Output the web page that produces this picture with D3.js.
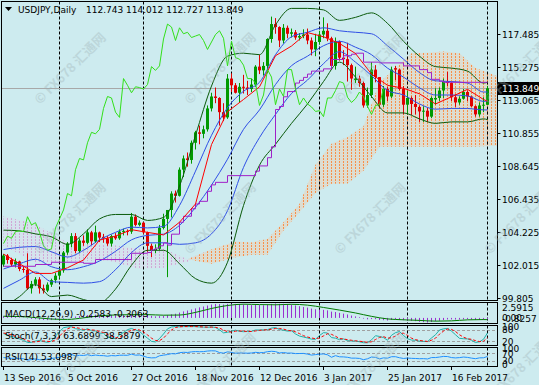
<!DOCTYPE html>
<html>
<head>
<meta charset="utf-8">
<script src="https://cdn.jsdelivr.net/npm/d3@7"></script>
<style>
  html, body { margin: 0; padding: 0; background: #cdebef; }
  svg { display: block; }
  text { font-family: "DejaVu Sans", sans-serif; font-size: 9px; fill: #000; }
</style>
</head>
<body>
<div id="chart"></div>
<script>
// bars are daily candles, index 0 = 13 Sep 2016 ... 121 = 1 Mar 2017
var dateTickBars = [0, 16, 32, 48, 64, 80, 96, 112];
var dateTickLabels = ["13 Sep 2016", "5 Oct 2016", "27 Oct 2016", "18 Nov 2016", "12 Dec 2016", "3 Jan 2017", "25 Jan 2017", "16 Feb 2017"];
var monthStartBars = [14, 35, 57, 79, 101, 121];
var priceTicks = [117.485, 115.275, 113.065, 110.855, 108.645, 106.435, 104.225, 102.015, 99.805];
var lastPrice = 113.849;

var opens = [102.05,102.65,102.35,102.05,102.25,101.75,101.70,100.45,100.75,101.05,
  100.45,100.30,100.70,101.00,101.30,101.65,102.85,103.45,103.95,102.95,
  103.65,103.50,104.20,103.60,104.20,103.90,103.80,103.45,103.95,103.80,
  104.25,104.30,104.25,105.25,104.70,104.85,104.20,103.30,103.00,103.10,
  104.50,105.10,105.70,106.80,106.65,108.40,109.15,109.05,110.20,110.90,
  110.80,111.10,112.50,113.30,113.20,112.25,111.90,114.50,114.05,113.55,
  113.95,113.90,113.80,114.10,115.30,115.05,115.35,117.15,118.15,117.95,
  117.05,117.90,117.50,117.60,117.25,117.35,117.45,117.05,116.45,116.95,
  117.45,117.70,117.20,115.35,117.00,115.90,115.80,115.40,114.40,114.50,
  114.20,112.70,113.40,115.10,114.60,112.75,113.80,113.30,115.20,115.10,
  113.80,112.75,113.20,112.80,112.60,112.30,112.35,111.95,113.10,113.20,
  113.70,114.30,114.20,113.25,112.90,113.15,113.60,113.30,112.65,112.10,
  112.70,112.743];
var highs = [102.75,102.75,102.50,102.45,102.30,101.95,102.80,100.95,101.20,101.20,
  100.70,100.85,101.10,101.50,101.80,102.95,103.55,104.15,104.15,103.80,
  104.00,104.40,104.30,104.65,104.25,104.10,103.95,104.05,104.15,104.40,
  104.45,104.40,105.50,105.40,105.00,104.90,104.25,103.45,103.40,104.70,
  105.45,105.50,106.95,107.00,108.55,109.35,109.55,110.35,111.00,111.35,
  111.35,112.70,113.55,113.90,113.25,112.85,114.80,114.85,114.20,114.20,
  114.75,114.35,114.50,115.40,116.10,115.60,117.20,118.65,118.55,118.00,
  118.15,118.05,117.85,117.75,117.55,117.80,117.85,117.25,117.50,117.70,
  118.60,118.20,117.30,117.25,117.05,116.40,116.90,115.50,115.30,114.70,
  114.30,113.90,115.60,115.40,114.60,114.00,113.95,115.30,115.35,115.15,
  114.00,113.70,113.30,113.40,112.70,112.65,112.55,113.30,113.85,113.90,
  114.50,114.95,114.25,113.45,113.30,113.80,113.70,113.35,112.70,112.90,
  113.25,114.012];
var lows = [101.90,102.10,101.90,101.85,101.60,101.50,100.35,100.10,100.60,100.10,
  100.10,100.20,100.55,100.80,101.10,101.50,102.70,103.20,102.80,102.80,
  103.30,103.40,103.35,103.50,103.55,103.50,103.30,103.25,103.70,103.70,
  104.00,104.00,104.10,104.60,104.60,104.10,102.90,102.55,102.80,103.00,
  104.40,101.20,105.20,106.20,106.60,107.90,108.60,108.80,109.75,110.10,
  110.50,110.95,112.30,112.85,111.35,111.65,111.80,113.60,113.50,112.90,
  113.50,113.40,113.60,113.95,114.80,114.70,114.85,116.90,117.50,116.60,
  116.85,117.20,117.25,117.10,117.05,117.20,116.80,116.05,116.00,116.80,
  117.20,117.00,115.10,115.10,115.70,115.40,114.30,113.75,114.20,113.95,
  112.55,112.55,113.20,114.25,112.50,112.60,113.00,113.20,114.40,113.70,
  112.10,112.10,112.05,112.10,111.60,111.60,111.60,111.85,112.75,113.00,
  113.20,114.00,113.00,112.60,112.75,113.10,113.00,112.60,111.95,111.95,
  112.25,112.727];
var closes = [102.65,102.35,102.05,102.25,101.75,101.70,100.45,100.75,101.05,100.45,
  100.30,100.70,101.00,101.30,101.65,102.85,103.45,103.95,102.95,103.65,
  103.50,104.20,103.60,104.20,103.85,103.80,103.45,103.95,103.80,104.25,
  104.30,104.25,105.25,104.70,104.85,104.20,103.30,103.00,103.10,104.50,
  105.10,105.70,106.80,106.65,108.40,109.15,109.05,110.20,110.90,110.80,
  111.10,112.50,113.30,113.20,112.25,111.90,114.50,114.05,113.55,113.95,
  113.90,113.80,114.10,115.30,115.05,115.35,117.15,118.15,117.95,117.05,
  117.90,117.50,117.60,117.25,117.35,117.45,117.05,116.45,116.95,117.45,
  117.70,117.20,115.35,117.00,115.90,115.80,115.40,114.50,114.50,114.20,
  112.70,113.40,115.10,114.60,112.75,113.80,113.30,115.10,115.10,113.80,
  112.75,113.20,112.80,112.60,112.30,112.35,111.95,113.20,113.20,113.70,
  114.30,114.20,113.25,112.90,113.15,113.60,113.30,112.65,112.10,112.70,
  112.75,113.849];

// indicator readings taken every 4 bars
var sampleBars = [0,4,8,12,16,20,24,28,32,36,40,44,48,52,56,60,64,68,72,76,80,84,88,92,96,100,104,108,112,116,120,121];
var bbUpper2 = [104.35,104.3,104.1,103.9,103.4,104.1,105.1,105.4,105.4,105.0,105.2,107.3,110.7,114.0,116.0,116.2,116.1,118.1,119.2,119.2,119.1,118.4,118.6,118.9,118.2,117.0,116.0,115.3,115.2,115.0,114.2,114.25];
var bbLower2 = [99.15,99.9,100.7,99.9,100.0,99.7,99.5,100.4,102.0,103.0,103.0,102.1,101.1,100.8,102.2,106.0,108.7,110.1,111.5,112.8,114.3,115.6,114.6,113.3,112.2,112.2,111.8,111.5,111.6,111.6,111.8,111.75];
var bbUpper1 = [103.05,103.2,103.25,102.9,102.55,103.0,103.7,104.2,104.55,104.5,104.6,106.0,108.3,110.7,112.55,113.65,114.25,116.1,117.3,117.6,117.9,117.7,117.6,117.5,116.7,115.8,114.9,114.35,114.3,114.2,113.6,113.6];
var bbLower1 = [100.45,101.0,101.55,100.9,100.85,100.8,100.9,101.7,102.85,103.5,103.5,103.4,103.5,104.1,105.65,108.55,110.55,112.1,113.5,114.4,115.5,116.3,115.6,114.7,113.7,113.4,112.8,112.45,112.5,112.5,112.4,112.4];
var bbMiddle = [101.75,102.1,102.4,101.9,101.7,101.9,102.28,102.93,103.7,104.0,104.08,104.67,105.88,107.37,109.1,111.1,112.4,114.1,115.36,116.0,116.7,117.0,116.6,116.1,115.2,114.6,113.88,113.4,113.4,113.34,112.97,113.0];
var tenkan = [102.75,102.1,101.45,101.45,101.83,102.35,103.68,103.95,104.38,104.2,104.03,104.88,106.1,110.08,112.28,113.1,113.95,116.03,116.68,117.58,117.3,116.85,116.18,114.8,114.05,113.85,113.48,112.8,113.28,113.78,113.1,112.98];
var macdSignal = [0.30,0.25,0.06,-0.20,-0.27,0.01,0.37,0.53,0.58,0.59,0.49,0.52,0.99,1.70,2.23,2.47,2.40,2.36,2.45,2.30,1.88,1.41,0.89,0.28,-0.18,-0.34,-0.45,-0.58,-0.53,-0.35,-0.30,-0.3063];

// kijun-sen changes value only at these bars
var kijunBars = [0,8,12,20,23,32,36,37,38,39,40,41,42,44,45,47,48,49,51,52,53,56,63,64,66,67,68,69,70,71,73,74,75,76,77,80,82,85,87,88,90,94,100,104,106,107,109,110,121];
var kijun = [101.93,102.05,102.2,102.13,102.38,102.8,102.85,103.03,103.15,103.3,103.5,103.35,104.08,104.88,105.28,105.78,106.1,106.28,106.95,107.38,107.55,108.0,108.3,108.65,109.2,109.93,112.43,112.63,113.28,113.63,114.2,114.38,114.58,114.8,115.0,115.15,115.78,116.03,116.13,116.2,115.6,115.55,115.35,115.1,114.9,114.45,114.33,114.25,114.25];

// ichimoku cloud, shifted 26 bars ahead
var cloudBars = [0,8,16,26,34,40,46,52,58,62,66,70,74,78,82,86,90,94,98,102,106,110,114,118,122,124];
var spanA = [103.3,102.2,102.25,102.34,101.75,101.83,102.24,103.05,103.59,103.53,103.76,104.88,106.1,108.73,110.14,110.57,111.3,114.23,115.2,116.19,116.23,116.32,116.19,115.2,114.8,114.6];
var spanB = [105.3,104.75,103.5,103.4,103.1,103.1,102.4,102.1,102.53,102.7,102.7,104.33,105.55,106.83,107.45,107.48,108.33,109.93,109.93,109.93,109.93,109.93,109.93,109.93,110.0,110.0];

var chikouShift = 26;

// sub windows, one value per bar
var macd = [0.29,0.25,0.19,0.17,0.11,0.05,-0.09,-0.18,-0.22,-0.31,
  -0.38,-0.40,-0.39,-0.35,-0.29,-0.14,0.03,0.20,0.25,0.34,
  0.40,0.49,0.51,0.57,0.58,0.58,0.55,0.56,0.54,0.56,
  0.58,0.58,0.65,0.65,0.66,0.61,0.49,0.37,0.27,0.31,
  0.38,0.48,0.64,0.75,0.96,1.17,1.33,1.52,1.71,1.90,
  2.05,2.23,2.41,2.51,2.48,2.40,2.52,2.57,2.52,2.50,
  2.44,2.36,2.30,2.33,2.30,2.28,2.39,2.52,2.59,2.53,
  2.53,2.47,2.41,2.25,2.11,1.97,1.85,1.68,1.56,1.50,
  1.45,1.36,1.13,1.06,0.91,0.77,0.62,0.42,0.27,0.12,
  -0.12,-0.25,-0.21,-0.22,-0.37,-0.41,-0.47,-0.37,-0.29,-0.30,
  -0.41,-0.46,-0.52,-0.58,-0.70,-0.76,-0.83,-0.74,-0.60,-0.51,
  -0.38,-0.28,-0.28,-0.30,-0.29,-0.25,-0.24,-0.28,-0.35,-0.35,
  -0.34,-0.2583];
var stochK = [60,53,45,40,32,25,13,14,21,24,18,14,21,47,70,91,95,96,86,82,
  77,86,75,74,62,62,41,38,33,53,66,81,87,79,72,52,36,19,16,34,
  58,85,95,97,96,97,97,97,97,95,94,93,95,92,80,64,67,73,78,72,
  70,71,72,79,79,80,81,89,92,81,78,73,75,58,47,42,37,31,30,50,
  65,63,39,36,28,32,23,21,21,17,12,12,27,49,45,39,25,51,65,71,
  50,33,26,25,20,19,18,37,54,79,85,87,73,54,35,33,32,25,13,17,
  30,63.6899];
var stochD = [63,59,53,46,39,32,23,17,16,20,21,19,18,27,46,69,85,94,92,88,
  82,82,79,78,70,66,55,47,37,41,51,67,78,82,79,68,53,36,24,23,
  36,59,79,92,96,97,97,97,97,96,95,94,94,93,89,79,70,68,73,74,
  73,71,71,74,77,79,80,83,87,87,84,77,75,69,60,49,42,37,33,37,
  48,59,56,46,34,32,28,25,22,20,17,14,17,29,40,44,36,38,47,62,
  62,51,36,28,24,21,19,25,36,57,73,84,82,71,54,41,33,30,23,18,
  20,38.5879];
var rsi = [47,44.5,42.5,44.4,40.7,40.3,32.7,35.8,39.0,35.3,
  34.4,38.7,41.8,44.8,48.3,57.8,61.6,64.5,55.6,59.8,
  58.5,62.6,57.4,60.9,58.0,57.6,54.5,57.9,56.6,59.7,
  60.0,59.4,66.0,60.2,61.3,54.8,47.4,45.1,46.0,56.7,
  60.3,63.6,68.7,67.4,74.0,76.2,75.2,78.5,80.2,79.2,
  80.0,83.1,84.6,83.7,74.6,71.5,78.6,75.1,71.3,72.5,
  72.1,71.2,72.3,76.0,73.8,74.8,79.6,81.8,80.0,72.4,
  74.8,71.6,72.0,69.0,69.4,69.8,66.0,60.6,63.3,65.8,
  67.1,62.3,48.6,57.5,51.1,50.6,48.4,43.7,43.7,42.1,
  35.2,40.1,50.0,47.6,39.7,45.2,43.2,51.6,51.6,45.9,
  41.9,44.2,42.6,41.8,40.5,40.9,39.1,46.8,46.9,49.8,
  53.2,52.6,46.8,44.9,46.7,49.7,47.8,43.8,40.7,45.2,
  45.6,53.0987];

var width = 539, height = 385;
var bg = "#cdebef";
var plotRight = 497.5;

var svg = d3.select("#chart")
  .append("svg")
  .attr("width", width)
  .attr("height", height);

svg.append("rect").attr("width", width).attr("height", height).attr("fill", bg);

var defs = svg.append("defs");

// panels: main chart and three sub windows
var panels = {
  main:  {top: 1.5, bottom: 300.5},
  macd:  {top: 302.5, bottom: 323.5},
  stoch: {top: 325.5, bottom: 345.5},
  rsi:   {top: 347.5, bottom: 366.5}
};
Object.keys(panels).forEach(function(k) {
  var p = panels[k];
  defs.append("clipPath").attr("id", "clip-" + k)
    .append("rect")
    .attr("x", 2).attr("y", p.top + 0.5)
    .attr("width", plotRight - 2.5).attr("height", p.bottom - p.top - 1);
});

var x = d3.scaleLinear().domain([0, 121]).range([3.5, 487.5]);
var y = d3.scaleLinear().domain([99.805, 117.485]).range([298, 34]);
var yMacd = d3.scaleLinear().domain([-0.8257, 2.5915]).range([322.5, 303.5]);
var yStoch = d3.scaleLinear().domain([0, 100]).range([345, 326]);
var yRsi = d3.scaleLinear().domain([0, 100]).range([366, 348]);

function pairs(bars, vals) {
  return bars.map(function(b, k) { return [b, vals[k]]; });
}
function lineFor(scale, curve) {
  return d3.line()
    .curve(curve || d3.curveLinear)
    .x(function(d) { return x(d[0]); })
    .y(function(d) { return scale(d[1]); });
}
var allBars = d3.range(closes.length);

// ---- main chart ----
var main = svg.append("g").attr("clip-path", "url(#clip-main)");

// cloud: light tint plus dotted vertical lines, clipped to the span area
var cloud = cloudBars.map(function(b, k) { return {b: b, a: spanA[k], s: spanB[k]}; });
var cloudParts = [
  {id: "cloud-thistle", color: "#d0a8d6", tint: "#e6d4e8", op: 0.3,
   area: d3.area().x(function(d) { return x(d.b); })
     .y0(function(d) { return y(d.a); })
     .y1(function(d) { return y(Math.max(d.a, d.s)); })},
  {id: "cloud-sand", color: "#f7904a", tint: "#f8c8a0", op: 0.38,
   area: d3.area().x(function(d) { return x(d.b); })
     .y0(function(d) { return y(d.s); })
     .y1(function(d) { return y(Math.max(d.a, d.s)); })}
];
var cloudCols = d3.range(0, 125);
cloudParts.forEach(function(c) {
  defs.append("clipPath").attr("id", c.id)
    .append("path").datum(cloud).attr("d", c.area);
  var g = main.append("g").attr("clip-path", "url(#" + c.id + ")");
  g.append("rect")
    .attr("x", 0).attr("y", 0).attr("width", plotRight).attr("height", 300)
    .attr("fill", c.tint).attr("opacity", c.op);
  g.selectAll("line")
    .data(cloudCols)
    .enter().append("line")
    .attr("x1", function(i) { return x(i); })
    .attr("x2", function(i) { return x(i); })
    .attr("y1", 2).attr("y2", 300)
    .attr("stroke", c.color)
    .attr("stroke-dasharray", "2,1");
});

// period separators
function separators(g, p) {
  g.selectAll(".sep")
    .data(monthStartBars)
    .enter().append("line")
    .attr("x1", function(d) { return x(d); })
    .attr("x2", function(d) { return x(d); })
    .attr("y1", p.top).attr("y2", p.bottom)
    .attr("stroke", "#000")
    .attr("stroke-dasharray", "3,2");
}
separators(main, panels.main);

// bid line
main.append("line")
  .attr("x1", 2).attr("x2", plotRight)
  .attr("y1", Math.round(y(lastPrice)) + 0.5).attr("y2", Math.round(y(lastPrice)) + 0.5)
  .attr("stroke", "#a8a8a8");

// candles
var bull = "#009a00", bear = "#e00000";
var candles = main.selectAll(".candle")
  .data(allBars)
  .enter().append("g")
  .attr("class", "candle");
candles.append("line")
  .attr("x1", function(i) { return x(i); })
  .attr("x2", function(i) { return x(i); })
  .attr("y1", function(i) { return y(highs[i]); })
  .attr("y2", function(i) { return y(lows[i]); })
  .attr("stroke", function(i) { return closes[i] >= opens[i] ? bull : bear; });
candles.append("rect")
  .attr("x", function(i) { return x(i) - 1.5; })
  .attr("width", 3)
  .attr("y", function(i) { return y(Math.max(opens[i], closes[i])); })
  .attr("height", function(i) { return Math.max(1, Math.abs(y(opens[i]) - y(closes[i]))); })
  .attr("fill", function(i) { return closes[i] >= opens[i] ? bull : bear; });

// bollinger bands
[[bbUpper2, "#0a5a0a"], [bbLower2, "#0a5a0a"], [bbUpper1, "#2f4fe6"], [bbLower1, "#2f4fe6"], [bbMiddle, "#2f4fe6"]]
  .forEach(function(s) {
    main.append("path")
      .datum(pairs(sampleBars, s[0]))
      .attr("fill", "none")
      .attr("stroke", s[1])
      .attr("stroke-width", 1)
      .attr("d", lineFor(y, d3.curveMonotoneX));
  });

// kijun-sen
main.append("path")
  .datum(pairs(kijunBars, kijun))
  .attr("fill", "none")
  .attr("stroke", "#a020c8")
  .attr("d", lineFor(y, d3.curveStepAfter));

// tenkan-sen
main.append("path")
  .datum(pairs(sampleBars, tenkan))
  .attr("fill", "none")
  .attr("stroke", "#ff0000")
  .attr("d", lineFor(y));

// chikou span: closes drawn 26 bars back
var chikou = allBars.filter(function(i) { return i >= chikouShift; })
  .map(function(i) { return [i - chikouShift, closes[i]]; });
main.append("path")
  .datum(chikou)
  .attr("fill", "none")
  .attr("stroke", "#33e01a")
  .attr("d", lineFor(y));

// ---- MACD ----
var gm = svg.append("g").attr("clip-path", "url(#clip-macd)");
separators(gm, panels.macd);
gm.selectAll(".hist")
  .data(allBars)
  .enter().append("line")
  .attr("x1", function(i) { return x(i); })
  .attr("x2", function(i) { return x(i); })
  .attr("y1", yMacd(0))
  .attr("y2", function(i) { return yMacd(macd[i]); })
  .attr("stroke", "#9a30d0");
gm.append("path")
  .datum(pairs(sampleBars, macdSignal))
  .attr("fill", "none")
  .attr("stroke", "#007a00")
  .attr("d", lineFor(yMacd, d3.curveMonotoneX));

// ---- Stochastic ----
var gs = svg.append("g").attr("clip-path", "url(#clip-stoch)");
[20, 80].forEach(function(v) {
  gs.append("line").attr("x1", 2).attr("x2", plotRight)
    .attr("y1", Math.round(yStoch(v)) + 0.5).attr("y2", Math.round(yStoch(v)) + 0.5)
    .attr("stroke", "#a0a0a0").attr("stroke-dasharray", "3,2");
});
separators(gs, panels.stoch);
gs.append("path")
  .datum(pairs(allBars, stochK))
  .attr("fill", "none")
  .attr("stroke", "#20b2aa")
  .attr("d", lineFor(yStoch));
gs.append("path")
  .datum(pairs(allBars, stochD))
  .attr("fill", "none")
  .attr("stroke", "#ff0000")
  .attr("stroke-dasharray", "3,2")
  .attr("d", lineFor(yStoch));

// ---- RSI ----
var gr = svg.append("g").attr("clip-path", "url(#clip-rsi)");
[30, 70].forEach(function(v) {
  gr.append("line").attr("x1", 2).attr("x2", plotRight)
    .attr("y1", Math.round(yRsi(v)) + 0.5).attr("y2", Math.round(yRsi(v)) + 0.5)
    .attr("stroke", "#a0a0a0").attr("stroke-dasharray", "3,2");
});
separators(gr, panels.rsi);
gr.append("path")
  .datum(pairs(allBars, rsi))
  .attr("fill", "none")
  .attr("stroke", "#1e90ff")
  .attr("d", lineFor(yRsi));

// panel frames
Object.keys(panels).forEach(function(k) {
  var p = panels[k];
  svg.append("rect")
    .attr("x", 1.5).attr("y", p.top)
    .attr("width", plotRight - 1.5).attr("height", p.bottom - p.top)
    .attr("fill", "none").attr("stroke", "#000");
});

// price axis
var ax = svg.append("g");
ax.selectAll(".pt")
  .data(priceTicks)
  .enter().append("line")
  .attr("x1", plotRight).attr("x2", plotRight + 3)
  .attr("y1", function(d) { return Math.round(y(d)) + 0.5; })
  .attr("y2", function(d) { return Math.round(y(d)) + 0.5; })
  .attr("stroke", "#000");
ax.selectAll(".pl")
  .data(priceTicks)
  .enter().append("text")
  .attr("x", 502)
  .attr("y", function(d) { return y(d) + 3.5; })
  .text(function(d) { return d.toFixed(3); });

ax.append("rect")
  .attr("x", 498).attr("y", Math.round(y(lastPrice)) - 6)
  .attr("width", 41).attr("height", 13)
  .attr("fill", "#000");
ax.append("text")
  .attr("x", 502).attr("y", y(lastPrice) + 3.5)
  .style("fill", "#fff")
  .text(lastPrice.toFixed(3));

// sub window scale labels (they overlap in the original too)
function sideLabel(txt, yy) {
  ax.append("text").attr("x", 502).attr("y", yy).text(txt);
}
sideLabel("2.5915", 311);
sideLabel("0.00", yMacd(0) + 3);
sideLabel("-0.8257", 322);
sideLabel("100", yStoch(100) + 4);
sideLabel("80", yStoch(80) + 3.5);
sideLabel("20", yStoch(20) + 3.5);
sideLabel("100", yRsi(100) + 4);
sideLabel("70", yRsi(70) + 3.5);
sideLabel("30", yRsi(30) + 3.5);
sideLabel("0", yRsi(0) + 2);

// time axis
ax.selectAll(".tt")
  .data(dateTickBars)
  .enter().append("line")
  .attr("x1", function(d) { return x(d); })
  .attr("x2", function(d) { return x(d); })
  .attr("y1", 366.5).attr("y2", 370)
  .attr("stroke", "#000");
ax.selectAll(".tl")
  .data(dateTickBars)
  .enter().append("text")
  .attr("x", function(d) { return x(d) + 0.5; })
  .attr("y", 381)
  .text(function(d, k) { return dateTickLabels[k]; });

// titles
svg.append("path").attr("d", "M5,7 L12,7 L8.5,11 Z").attr("fill", "#000");
svg.append("text").attr("x", 18).attr("y", 13).text("USDJPY,Daily");
svg.append("text").attr("x", 86).attr("y", 13)
  .text(opens[121].toFixed(3) + " " + highs[121].toFixed(3) + " " + lows[121].toFixed(3) + " " + closes[121].toFixed(3));
svg.append("text").attr("x", 5).attr("y", 316.5)
  .text("MACD(12,26,9) " + macd[121].toFixed(4) + " " + macdSignal[macdSignal.length - 1].toFixed(4));
svg.append("text").attr("x", 5).attr("y", 339)
  .text("Stoch(7,3,3) " + stochK[121].toFixed(4) + " " + stochD[121].toFixed(4));
svg.append("text").attr("x", 5).attr("y", 360)
  .text("RSI(14) " + rsi[121].toFixed(4));

// watermark
var marks = [[40,105],[190,105],[340,105],[490,105],[40,255],[190,255],[340,255],[490,255],[40,405],[190,405],[340,405],[490,405]];
svg.selectAll(".wm")
  .data(marks)
  .enter().append("text")
  .attr("transform", function(d) { return "translate(" + d[0] + "," + d[1] + ") rotate(-45)"; })
  .style("font-family", "'Noto Sans CJK SC', 'DejaVu Sans', sans-serif")
  .style("font-size", "13px")
  .style("font-weight", "bold")
  .style("fill", "#9fb2b6")
  .style("opacity", 0.35)
  .text("© FX678 汇通网");
</script>
</body>
</html>
